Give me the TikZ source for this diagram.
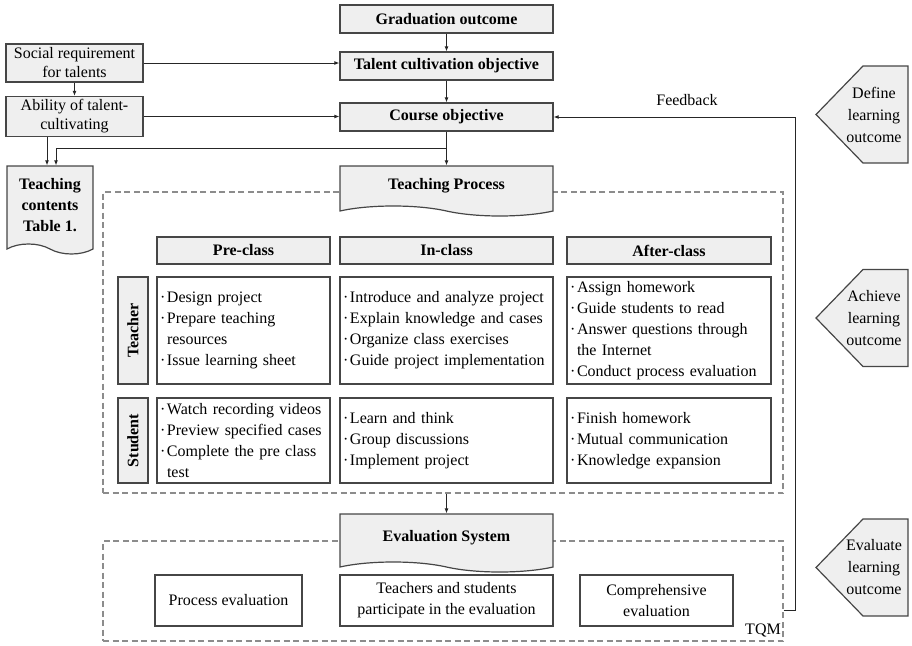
\documentclass[tikz,border=0pt]{standalone}
\usepackage{fontspec}
\setmainfont{Liberation Serif}
\definecolor{boxgray}{RGB}{239,239,239}
\definecolor{linegray}{RGB}{70,70,70}
\definecolor{dashgray}{RGB}{140,140,140}
\usetikzlibrary{positioning, arrows.meta, calc, shapes.symbols}
\newcommand{\figfont}{\fontsize{16}{21}\selectfont}
\tikzset{
  headbox/.style={draw=linegray, line width=1.2pt, fill=boxgray, font=\figfont\bfseries, inner sep=0pt, minimum width=213pt, minimum height=28pt},
  sidebox/.style={draw=linegray, line width=1.2pt, fill=boxgray, align=center, inner sep=0pt, minimum width=137pt, font=\fontsize{16}{19}\selectfont},
  docbox/.style={tape, tape bend top=none, tape bend bottom=out and in, tape bend height=10pt, draw=linegray, line width=1.2pt, fill=boxgray, font=\figfont\bfseries, align=center, inner sep=0pt},
  rolebox/.style={draw=linegray, line width=1.2pt, fill=boxgray, font=\figfont\bfseries, rotate=90, inner sep=0pt, minimum height=30pt},
  listbox/.style={draw=linegray, line width=1.2pt, fill=white, align=left, inner xsep=3pt, inner ysep=0pt},
  evalbox/.style={draw=linegray, line width=1.2pt, fill=white, align=center, inner sep=0pt, minimum height=51pt},
  goalline/.style={draw=linegray, line width=1.2pt, fill=boxgray},
  goaltext/.style={align=center, inner sep=0pt, font=\fontsize{16}{22}\selectfont},
  frame/.style={draw=dashgray, dash pattern=on 6pt off 3.5pt, line width=1.2pt, inner sep=0pt},
  wire/.style={-{Latex[length=5pt,width=4pt]}, line width=1pt, black!85}
}
\newcommand{\itm}{\makebox[7pt][l]{·}}
\newcommand{\ind}{\hspace*{7pt}}
% pentagon pointing left, then its text
\newcommand{\goal}[3]{%
  \path[goalline] (816,#2) -- ++(47,-48.5) -- ++(45,0) -- ++(0,97) -- ++(-45,0) -- cycle;
  \node[goaltext] (#1) at (874,#2) {#3};}

\begin{document}
\begin{tikzpicture}[x=1pt, y=-1pt, font=\figfont]
  \useasboundingbox (0,0) rectangle (912,645);
  % dashed frames
  \node[frame, minimum width=680pt, minimum height=301pt] (tpframe) at (443,342.5) {};
  \node[frame, minimum width=680pt, minimum height=100pt] (tqm) at (443,591) {};
  % objectives
  \node[headbox] (grad) at (446.5,19) {Graduation outcome};
  \node[headbox] (talent) at (446.5,66) {Talent cultivation objective};
  \node[headbox] (course) at (446.5,117) {Course objective};
  \node[sidebox, minimum height=38pt] (social) at (74.5,63) {Social requirement\\for talents};
  \node[sidebox, minimum height=40pt] (ability) at (74.5,116.5) {Ability of talent-\\cultivating};
  \node[docbox, minimum width=86pt, minimum height=88pt] (contents) at (50,205) {Teaching\\contents\\Table 1.};
  \node[docbox, minimum width=213pt, minimum height=50pt] (tp) at (446.5,186) {Teaching Process};
  % class stages
  \node[headbox, minimum width=173pt, minimum height=27pt] (pre) at (243.5,250.5) {Pre-class};
  \node[headbox, minimum height=27pt] (in) at (446.5,250.5) {In-class};
  \node[headbox, minimum width=204pt, minimum height=27pt] (after) at (669,250.5) {After-class};
  \node[rolebox, minimum width=107pt] (teacher) at (133,330.5) {Teacher};
  \node[rolebox, minimum width=85pt] (student) at (133,440.5) {Student};
  \node[listbox, text width=167pt, minimum height=107pt] (tpre) at (243.5,330.5)
    {\itm Design project\\\itm Prepare teaching\\\ind resources\\\itm Issue learning sheet};
  \node[listbox, text width=207pt, minimum height=107pt] (tin) at (446.5,330.5)
    {\itm Introduce and analyze project\\\itm Explain knowledge and cases\\\itm Organize class exercises\\\itm Guide project implementation};
  \node[listbox, text width=198pt, minimum height=107pt] (tafter) at (669,330.5)
    {\itm Assign homework\\\itm Guide students to read\\\itm Answer questions through\\\ind the Internet\\\itm Conduct process evaluation};
  \node[listbox, text width=167pt, minimum height=85pt] (spre) at (243.5,440.5)
    {\itm Watch recording videos\\\itm Preview specified cases\\\itm Complete the pre class\\\ind test};
  \node[listbox, text width=207pt, minimum height=85pt] (sin) at (446.5,440.5)
    {\itm Learn and think\\\itm Group discussions\\\itm Implement project};
  \node[listbox, text width=198pt, minimum height=85pt] (safter) at (669,440.5)
    {\itm Finish homework\\\itm Mutual communication\\\itm Knowledge expansion};
  % evaluation
  \node[docbox, minimum width=213pt, minimum height=58pt] (es) at (446.5,538) {Evaluation System};
  \node[evalbox, minimum width=147pt] (proc) at (228.5,600.5) {Process evaluation};
  \node[evalbox, minimum width=213pt] (part) at (446.5,600.5) {Teachers and students\\participate in the evaluation};
  \node[evalbox, minimum width=153pt] (comp) at (656.5,600.5) {Comprehensive\\evaluation};
  \node (tqmlabel) at (763,630) {TQM};
  \node (fblabel) at (687,100) {Feedback};
  % learning outcome stages
  \goal{define}{114.5}{Define\\learning\\outcome}
  \goal{achieve}{318}{Achieve\\learning\\outcome}
  \goal{evaluate}{567.5}{Evaluate\\learning\\outcome}
  % connectors
  \draw[wire] (grad) -- (talent);
  \draw[wire] (talent) -- (course);
  \draw[wire] (course) -- (tp);
  \draw[wire] (social.east) -- (social.east -| talent.west);
  \draw[wire] (ability.east) -- (ability.east -| course.west);
  \draw[wire] (social) -- (ability);
  \draw[wire] ([xshift=-3pt]contents.north |- ability.south) -- ([xshift=-3pt]contents.north);
  \coordinate (split) at ($(course.south)+(0,17)$);
  \draw[wire] (split) -| ([xshift=6pt]contents.north);
  \draw[wire] (tpframe.south -| es.north) -- (es.north);
  \coordinate (fbturn) at (795,610);
  \draw[wire] (fbturn -| tqm.east) -- (fbturn) |- (course.east);
\end{tikzpicture}
\end{document}
